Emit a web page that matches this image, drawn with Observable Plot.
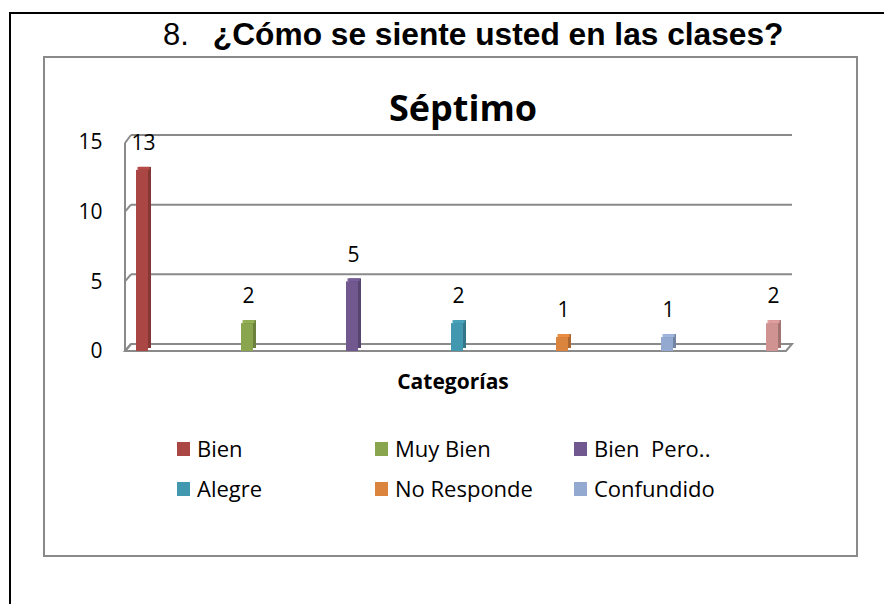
<!DOCTYPE html>
<html>
<head>
<meta charset="utf-8">
<script src="https://cdn.jsdelivr.net/npm/d3@7"></script>
<script src="https://cdn.jsdelivr.net/npm/@observablehq/plot@0.6"></script>
<style>
  html, body { margin: 0; padding: 0; background: #fff; }
  #page { position: relative; width: 884px; height: 604px; overflow: hidden; background: #fff; }
  .abs { position: absolute; }
  #outer { left: 9px; top: 12px; width: 920px; height: 640px; border-left: 2px solid #000; border-top: 2px solid #000; }
  #title { left: 163px; top: 16px; font-family: "Liberation Sans", Arial, sans-serif; font-size: 31px; color: #000; white-space: pre; line-height: 36px; }
  #title b { font-weight: bold; margin-left: 24px; font-size: 31.7px; }
  #box { left: 43px; top: 56px; width: 815px; height: 501px; border: 2px solid #8a8a8a; box-sizing: border-box; }
  #sub { left: 263px; width: 400px; top: 85px; text-align: center; font-family: "Open Sans", sans-serif; font-weight: bold; font-size: 36px; line-height: 46px; color: #000; }
  #xlab { left: 353px; width: 200px; top: 367px; text-align: center; font-family: "Open Sans", sans-serif; font-weight: bold; font-size: 21px; line-height: 28px; color: #000; }
  #plot { left: 0; top: 0; }
  .leg { position: absolute; font-family: "Open Sans", sans-serif; font-size: 22px; line-height: 28px; color: #000; white-space: pre; }
  .sw { position: absolute; width: 13px; height: 14px; }
</style>
</head>
<body>
<div id="page">
  <div id="outer" class="abs"></div>
  <div id="title" class="abs">8.<b>¿Cómo se siente usted en las clases?</b></div>
  <div id="box" class="abs"></div>
  <div id="sub" class="abs">Séptimo</div>
  <div id="xlab" class="abs">Categorías</div>
  <div id="plot" class="abs"></div>
  <div id="legend"></div>
</div>
<script>
// ---- data ----
const categories = ["Bien", "Muy Bien", "Bien  Pero..", "Alegre", "No Responde", "Confundido", "Otro"];
const values = [13, 2, 5, 2, 1, 1, 2];
const colors = ["#AA4643", "#89A54E", "#71588F", "#4198AF", "#DB843D", "#93A9CF", "#D19392"];
const legendCategories = ["Bien", "Muy Bien", "Bien  Pero..", "Alegre", "No Responde", "Confundido"];
const yTicks = [0, 5, 10, 15];

const data = categories.map((c, i) => ({
  cat: c, value: values[i], color: colors[i],
  side: d3.color(colors[i]).darker(0.7).formatHex(),
  top: d3.color(colors[i]).brighter(0.2).formatHex()
}));

// 3D wall / floor drawn through the y scale and the frame dimensions
function wall(index, scales, values, dims) {
  const y = scales.y;
  const x0 = dims.marginLeft, x1 = dims.width - dims.marginRight;
  const dx = 6, dy = -7;
  const g = d3.create("svg:g").attr("fill", "none").attr("stroke", "#8a8a8a").attr("stroke-width", 2);
  g.append("path").attr("fill", "#fff")
    .attr("d", `M${x0},${y(0)}L${x1},${y(0)}L${x1 + dx},${y(0) + dy}L${x0 + dx},${y(0) + dy}Z`);
  g.append("path").attr("d", `M${x0},${y(0)}L${x0},${y(15) + 1}`);
  for (const v of yTicks) {
    g.append("path").attr("d", `M${x0},${y(v) + (v === 15 ? 1 : 0)}L${x0 + dx},${y(v) + dy}`);
  }
  return g.node();
}

const plot = Plot.plot({
  width: 884,
  height: 604,
  marginLeft: 125,
  marginRight: 98,
  marginTop: 142,
  marginBottom: 253,
  style: {fontFamily: "Open Sans, sans-serif", fontSize: "21px", background: "transparent", overflow: "visible"},
  x: {type: "band", domain: categories, range: [40.6, 873.9], padding: 0.885, axis: null},
  y: {domain: [0, 15], axis: null},
  marks: [
    Plot.ruleY([5, 10, 15], {stroke: "#8a8a8a", strokeWidth: 2, dx: 6, dy: -7.5}),
    wall,
    Plot.rectY(data, {x: "cat", y: "value", fill: "side", dx: 3, dy: -3}),
    Plot.rectY(data, {x: "cat", y1: "value", y2: "value", fill: "top", dx: 1.5, dy: -3, insetBottom: -3}),
    Plot.rectY(data, {x: "cat", y: "value", fill: "color"}),
    Plot.axisY(yTicks, {tickSize: 0, tickPadding: 23, fontSize: 21, fill: "#000", label: null}),
    Plot.text(data, {x: "cat", y: "value", text: d => String(d.value), dy: -27, dx: 1, fontSize: 21, fill: "#000"})
  ]
});
document.getElementById("plot").appendChild(plot);

// legend (HTML)
const legend = document.getElementById("legend");
const colX = [177, 375, 574];
const rowY = [449, 489];
legendCategories.forEach((c, i) => {
  const col = i % 3, row = Math.floor(i / 3);
  const sw = document.createElement("div");
  sw.className = "sw";
  sw.style.left = colX[col] + "px";
  sw.style.top = (rowY[row] - 7) + "px";
  sw.style.background = colors[categories.indexOf(c)];
  legend.appendChild(sw);
  const t = document.createElement("div");
  t.className = "leg";
  t.style.left = (colX[col] + 20) + "px";
  t.style.top = (rowY[row] - 15) + "px";
  t.textContent = c;
  legend.appendChild(t);
});
</script>
</body>
</html>
